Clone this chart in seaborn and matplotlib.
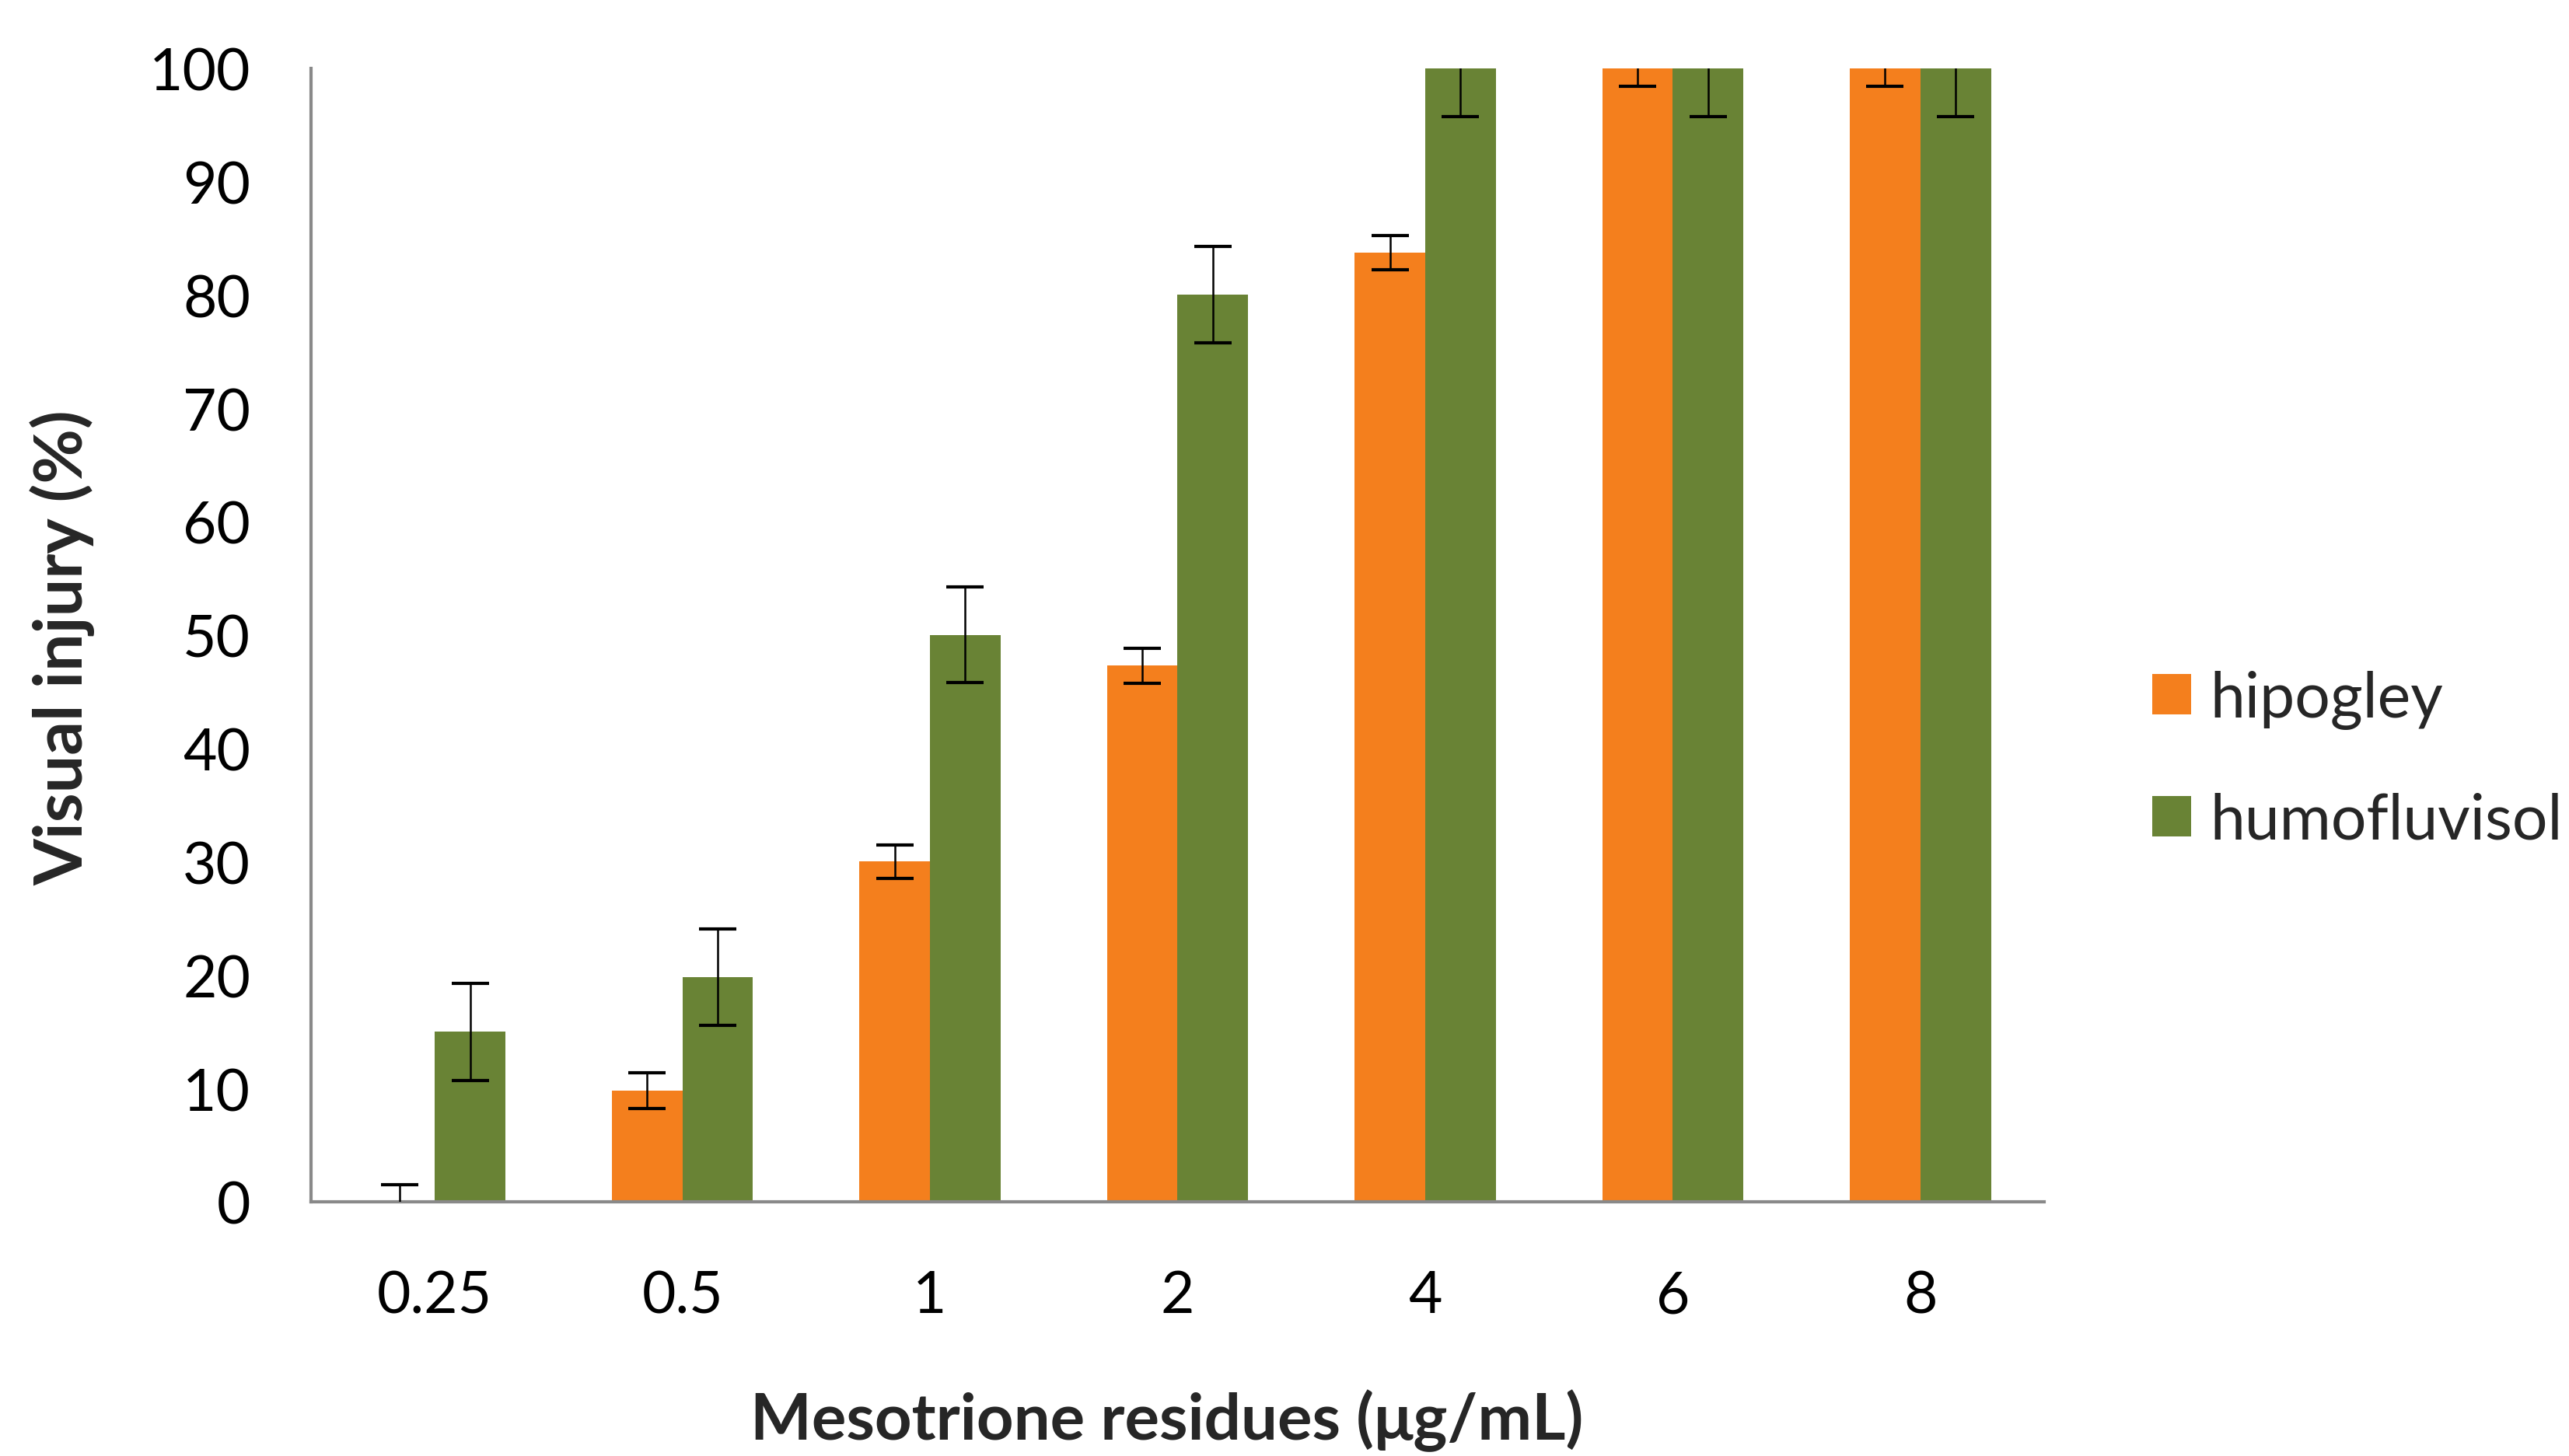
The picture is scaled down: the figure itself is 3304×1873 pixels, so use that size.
import numpy as np
import pandas as pd
import matplotlib
matplotlib.use("Agg")
import matplotlib.pyplot as plt
import seaborn as sns
from matplotlib.patches import Patch

# ---- data ----
categories = ["0.25", "0.5", "1", "2", "4", "6", "8"]
series_names = ["hipogley", "humofluvisol"]
hipogley = [0, 9.8, 30, 47.3, 83.7, 100, 100]
humofluvisol = [15, 19.8, 50, 80, 100, 100, 100]
hipogley_err = [1.5, 1.6, 1.5, 1.55, 1.5, 1.6, 1.6]
humofluvisol_err = [4.3, 4.25, 4.2, 4.25, 4.3, 4.3, 4.3]
y_ticks = [0, 10, 20, 30, 40, 50, 60, 70, 80, 90, 100]
colors = {"hipogley": "#F47F1D", "humofluvisol": "#698335"}

df = pd.DataFrame({
    "conc": categories * 2,
    "soil": [series_names[0]] * len(categories) + [series_names[1]] * len(categories),
    "injury": hipogley + humofluvisol,
})
errs = {"hipogley": hipogley_err, "humofluvisol": humofluvisol_err}

sns.set_style("white")
plt.rcParams["font.family"] = ["Lato", "DejaVu Sans"]

DPI = 200
fig = plt.figure(figsize=(3305 / DPI, 1874 / DPI), dpi=DPI)
ax = fig.add_axes([400 / 3305, 1 - 1547 / 1874, 2229 / 3305, (1547 - 88.5) / 1874])

sns.barplot(data=df, x="conc", y="injury", hue="soil", order=categories,
            hue_order=series_names, palette=colors, width=0.57, gap=0,
            errorbar=None, saturation=1, linewidth=0, ax=ax, legend=False)

for name, cont in zip(series_names, ax.containers):
    xs = [p.get_x() + p.get_width() / 2 for p in cont.patches]
    ys = [p.get_height() for p in cont.patches]
    ax.errorbar(xs, ys, yerr=errs[name], fmt="none", ecolor="black",
                elinewidth=0.9, capsize=8.6, capthick=1.5, clip_on=True, zorder=5)

ax.set_ylim(0, 100)
ax.set_xlim(-0.5, len(categories) - 0.5)
ax.set_yticks(y_ticks)
ax.set_yticklabels([str(v) for v in y_ticks])
ax.set_xticks(range(len(categories)))
ax.set_xticklabels(categories)
ax.set_xticks(np.arange(-0.5, len(categories), 1), minor=True)

gray = "#898989"
for s in ["top", "right"]:
    ax.spines[s].set_visible(False)
for s in ["left", "bottom"]:
    ax.spines[s].set_color(gray)
    ax.spines[s].set_linewidth(1.5)

ax.tick_params(axis="y", which="major", length=9, width=1.1, color=gray,
               pad=19, labelsize=27, labelcolor="black")
ax.tick_params(axis="x", which="major", length=0, pad=31, labelsize=27,
               labelcolor="black")
ax.tick_params(axis="x", which="minor", length=12, width=1.1, color=gray,
               direction="out")

ax.set_xlabel("Mesotrione residues (μg/mL)", fontsize=30, fontweight="bold")
ax.set_ylabel("Visual injury (%)", fontsize=31, fontweight="bold")
ax.xaxis.set_label_coords((1501 - 400) / 2229, (1547 - 1787) / 1458.5)
ax.yaxis.set_label_coords((122 - 400) / 2229, (1547 - 833) / 1458.5)

handles = [Patch(facecolor=colors[n], edgecolor="none") for n in series_names]
fig.legend(handles, series_names, loc="center left",
           bbox_to_anchor=(2768 / 3305, 1 - 978 / 1874),
           frameon=False, fontsize=29, handlelength=0.62, handleheight=0.62,
           handletextpad=0.3, labelspacing=1.0, borderpad=0, borderaxespad=0)

fig.savefig("out.png", dpi=DPI)
